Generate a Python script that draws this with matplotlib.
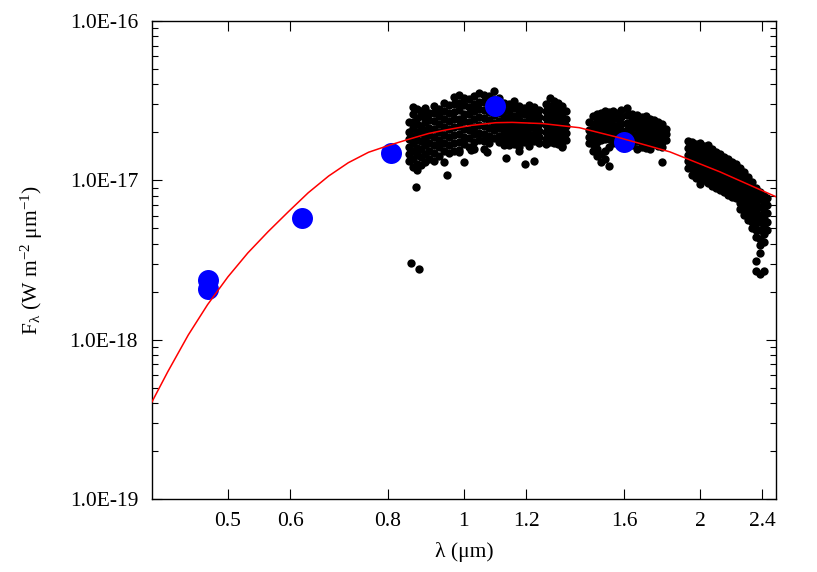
import numpy as np
import matplotlib
matplotlib.use("Agg")
import matplotlib.pyplot as plt
from matplotlib.ticker import FixedLocator, FixedFormatter, LogLocator, NullLocator, NullFormatter

plt.rcParams['font.family'] = ['Liberation Serif', 'DejaVu Serif']
plt.rcParams['mathtext.fontset'] = 'custom'
plt.rcParams['mathtext.rm'] = 'Liberation Serif'
plt.rcParams['mathtext.it'] = 'Liberation Serif:italic'

# spectrum, fluxes in units of 1e-17 W m^-2 um^-1, one list per wavelength column
band1_wl = [0.850, 0.860, 0.870, 0.881, 0.891, 0.902, 0.915, 0.929, 0.943, 0.957,
            0.971, 0.985, 1.000, 1.015, 1.030, 1.045, 1.061, 1.076, 1.092, 1.109,
            1.125, 1.142, 1.159, 1.176, 1.193, 1.211, 1.229, 1.247, 1.273, 1.288,
            1.304, 1.319, 1.335, 1.351]
band1_flux = [
    [2.31, 2.02, 1.83, 1.62, 1.47, 1.33],
    [2.88, 2.61, 2.33, 2.12, 1.9, 1.71, 1.52, 1.37, 1.22],
    [2.79, 2.47, 2.26, 2.01, 1.79, 1.6, 1.44, 1.27, 1.16],
    [2.72, 2.52, 2.2, 1.97, 1.76, 1.57, 1.41, 1.24],
    [2.86, 2.57, 2.31, 2.07, 1.85, 1.66, 1.47, 1.3],
    [2.66, 2.4, 2.14, 1.93, 1.72, 1.53, 1.36],
    [2.93, 2.63, 2.36, 2.1, 1.88, 1.67, 1.49, 1.33],
    [2.81, 2.54, 2.27, 2.02, 1.8, 1.61, 1.43],
    [3.04, 2.72, 2.43, 2.16, 1.93, 1.72, 1.53, 1.31],
    [2.97, 2.66, 2.35, 2.09, 1.86, 1.66, 1.48],
    [3.33, 3.0, 2.69, 2.41, 2.16, 1.92, 1.72, 1.52],
    [3.42, 3.06, 2.75, 2.44, 2.18, 1.95, 1.75, 1.56],
    [3.28, 2.95, 2.62, 2.36, 2.1, 1.88, 1.68],
    [3.22, 2.9, 2.59, 2.31, 2.06, 1.84, 1.63],
    [3.38, 3.03, 2.71, 2.42, 2.17, 1.94, 1.74, 1.57],
    [3.52, 3.12, 2.8, 2.5, 2.23, 1.99, 1.78],
    [3.44, 3.08, 2.76, 2.45, 2.19, 1.96, 1.76, 1.57],
    [3.36, 3.01, 2.68, 2.39, 2.14, 1.91, 1.71],
    [3.62, 3.24, 2.89, 2.58, 2.3, 2.06, 1.85],
    [3.31, 2.97, 2.65, 2.37, 2.12, 1.9, 1.74],
    [3.07, 2.78, 2.5, 2.25, 2.03, 1.84, 1.67],
    [3.01, 2.72, 2.45, 2.2, 1.98, 1.79, 1.66],
    [3.16, 2.84, 2.55, 2.29, 2.06, 1.86, 1.69],
    [2.94, 2.66, 2.4, 2.16, 1.95, 1.77, 1.61],
    [2.86, 2.59, 2.33, 2.1, 1.9, 1.74],
    [2.97, 2.68, 2.41, 2.17, 1.96, 1.78, 1.64],
    [2.9, 2.62, 2.37, 2.14, 1.93, 1.76],
    [2.76, 2.5, 2.26, 2.05, 1.86, 1.72],
    [3.02, 2.72, 2.45, 2.21, 2.0, 1.82, 1.68],
    [3.27, 2.94, 2.64, 2.38, 2.14, 1.93, 1.74],
    [3.16, 2.85, 2.57, 2.32, 2.09, 1.89, 1.71],
    [3.06, 2.76, 2.49, 2.25, 2.03, 1.84, 1.68],
    [2.91, 2.63, 2.38, 2.15, 1.94, 1.77, 1.63],
    [2.71, 2.44, 2.2, 1.98, 1.8],
]

band2_wl = [1.445, 1.462, 1.480, 1.497, 1.515, 1.533, 1.551, 1.570, 1.588, 1.612,
            1.636, 1.660, 1.685, 1.705, 1.725, 1.746, 1.767, 1.787, 1.808]
band2_flux = [
    [2.31, 2.08, 1.88, 1.72],
    [2.52, 2.27, 2.05, 1.85, 1.68, 1.53],
    [2.61, 2.35, 2.12, 1.92, 1.74, 1.58, 1.43],
    [2.66, 2.41, 2.18, 1.97, 1.79, 1.47, 1.31],
    [2.71, 2.45, 2.21, 2.0, 1.82, 1.52, 1.36],
    [2.69, 2.43, 2.2, 2.0, 1.82, 1.62, 1.23],
    [2.73, 2.47, 2.24, 2.03, 1.85, 1.71],
    [2.66, 2.41, 2.19, 1.99, 1.81, 1.68],
    [2.76, 2.5, 2.26, 2.05, 1.86, 1.72],
    [2.86, 2.56, 2.3, 2.08, 1.88, 1.74],
    [2.62, 2.38, 2.16, 1.96, 1.79, 1.66],
    [2.56, 2.33, 2.12, 1.93, 1.76, 1.57],
    [2.49, 2.27, 2.07, 1.89, 1.72, 1.62],
    [2.54, 2.3, 2.09, 1.9, 1.73, 1.6],
    [2.43, 2.21, 2.01, 1.84, 1.69, 1.58],
    [2.39, 2.18, 1.99, 1.82, 1.68],
    [2.32, 2.12, 1.94, 1.78, 1.65],
    [2.26, 2.07, 1.9, 1.74, 1.62, 1.31],
    [2.11, 1.94, 1.79],
]

band3_wl = [1.929, 1.952, 1.976, 1.999, 2.022, 2.047, 2.071, 2.096, 2.121, 2.146,
            2.172, 2.198, 2.224, 2.250, 2.277, 2.304, 2.331, 2.359, 2.387, 2.415,
            2.437]
band3_flux = [
    [1.76, 1.6, 1.45, 1.32, 1.2],
    [1.74, 1.58, 1.44, 1.31, 1.19, 1.08],
    [1.69, 1.53, 1.39, 1.26, 1.15, 1.04],
    [1.71, 1.55, 1.41, 1.28, 1.16, 1.05, 0.95],
    [1.64, 1.49, 1.35, 1.22, 1.11, 1.0],
    [1.66, 1.5, 1.36, 1.23, 1.11, 1.0, 0.96],
    [1.57, 1.43, 1.3, 1.18, 1.07, 0.97, 0.92],
    [1.51, 1.38, 1.26, 1.15, 1.04, 0.95, 0.89],
    [1.47, 1.34, 1.22, 1.11, 1.01, 0.93, 0.87],
    [1.41, 1.29, 1.17, 1.07, 0.98, 0.9, 0.84],
    [1.36, 1.24, 1.13, 1.03, 0.95, 0.87, 0.81],
    [1.31, 1.19, 1.09, 1.0, 0.92, 0.85, 0.79],
    [1.26, 1.15, 1.05, 0.96, 0.88, 0.82, 0.77],
    [1.2, 1.1, 1.0, 0.92, 0.85, 0.78, 0.72, 0.66],
    [1.13, 1.03, 0.94, 0.86, 0.79, 0.73, 0.67, 0.61],
    [1.05, 0.96, 0.88, 0.8, 0.73, 0.67, 0.61, 0.56],
    [0.97, 0.88, 0.8, 0.73, 0.67, 0.61, 0.55, 0.5],
    [0.89, 0.81, 0.73, 0.66, 0.6, 0.54, 0.49, 0.44, 0.31, 0.27],
    [0.84, 0.76, 0.68, 0.61, 0.55, 0.49, 0.43, 0.39, 0.35, 0.26],
    [0.8, 0.72, 0.64, 0.57, 0.51, 0.46, 0.41, 0.27],
    [0.78, 0.7, 0.62, 0.55, 0.49],
]

# isolated spectrum points
stray_wl = [0.855, 0.876, 0.868, 0.950, 1.000, 1.022, 0.985, 1.131, 1.176, 1.196, 1.229, 1.335, 1.070]
stray_flux = [0.303, 0.277, 0.91, 1.08, 1.30, 1.55, 1.50, 1.38, 1.53, 1.27, 1.32, 1.64, 1.50]

# photometry
phot_wl = [0.471, 0.471, 0.622, 0.808, 1.096, 1.598]
phot_flux = [2.37e-18, 2.07e-18, 5.82e-18, 1.48e-17, 2.92e-17, 1.74e-17]

# fitted model curve
model_wl = [0.40, 0.419, 0.445, 0.471, 0.50, 0.53, 0.5625, 0.597, 0.633, 0.672,
            0.712, 0.7555, 0.8014, 0.850, 0.902, 0.948, 1.02, 1.098, 1.152, 1.26,
            1.403, 1.579, 1.830, 2.121, 2.50]
model_flux = [4.07e-19, 6.29e-19, 1.07e-18, 1.66e-18, 2.48e-18, 3.50e-18, 4.76e-18,
              6.35e-18, 8.36e-18, 1.064e-17, 1.29e-17, 1.50e-17, 1.655e-17, 1.81e-17,
              1.97e-17, 2.07e-17, 2.21e-17, 2.30e-17, 2.31e-17, 2.27e-17, 2.14e-17,
              1.85e-17, 1.51e-17, 1.13e-17, 7.89e-18]

xtick_vals = [0.5, 0.6, 0.8, 1, 1.2, 1.6, 2, 2.4]
xtick_labels = ['0.5', '0.6', '0.8', '1', '1.2', '1.6', '2', '2.4']
ytick_vals = [1e-19, 1e-18, 1e-17, 1e-16]
ytick_labels = ['1.0E-19', '1.0E-18', '1.0E-17', '1.0E-16']


def flatten(wls, fluxes):
    xs, ys = [], []
    for w, col in zip(wls, fluxes):
        for f in col:
            xs.append(w)
            ys.append(f * 1e-17)
    return xs, ys


spec_x, spec_y = [], []
for wls, fl in [(band1_wl, band1_flux), (band2_wl, band2_flux), (band3_wl, band3_flux)]:
    xs, ys = flatten(wls, fl)
    spec_x += xs
    spec_y += ys
spec_x += stray_wl
spec_y += [f * 1e-17 for f in stray_flux]

fig = plt.figure(figsize=(8.17, 5.72), dpi=100)
ax = fig.add_axes([0.186, 0.1276, 0.7638, 0.8357])

ax.scatter(spec_x, spec_y, s=36, c='black', linewidths=0, zorder=2)
ax.scatter(phot_wl, phot_flux, s=228, c='#0000ff', linewidths=0, zorder=3)
ax.plot(model_wl, model_flux, color='red', lw=1.1, zorder=4)

ax.set_xscale('log')
ax.set_yscale('log')
ax.set_xlim(0.4, 2.5)
ax.set_ylim(1e-19, 1e-16)

ax.xaxis.set_major_locator(FixedLocator(xtick_vals))
ax.xaxis.set_major_formatter(FixedFormatter(xtick_labels))
ax.xaxis.set_minor_locator(NullLocator())
ax.yaxis.set_major_locator(FixedLocator(ytick_vals))
ax.yaxis.set_major_formatter(FixedFormatter(ytick_labels))
ax.yaxis.set_minor_locator(LogLocator(base=10, subs=np.arange(2, 10)))
ax.yaxis.set_minor_formatter(NullFormatter())

ax.tick_params(which='both', direction='in', top=True, right=True, labelsize=15.5, width=0.8)
ax.tick_params(which='major', length=7)
ax.tick_params(which='minor', length=4)
ax.tick_params(axis='x', pad=9)
ax.tick_params(axis='y', pad=10)
for sp in ax.spines.values():
    sp.set_linewidth(1.0)

ax.set_xlabel('λ (μm)', fontsize=15.5, labelpad=8)
ax.set_ylabel(r'F$_{\mathrm{λ}}$ (W m$^{\mathrm{-2}}$ μm$^{\mathrm{-1}}$)', fontsize=15.5, labelpad=18)

fig.savefig('out.png', dpi=100)
